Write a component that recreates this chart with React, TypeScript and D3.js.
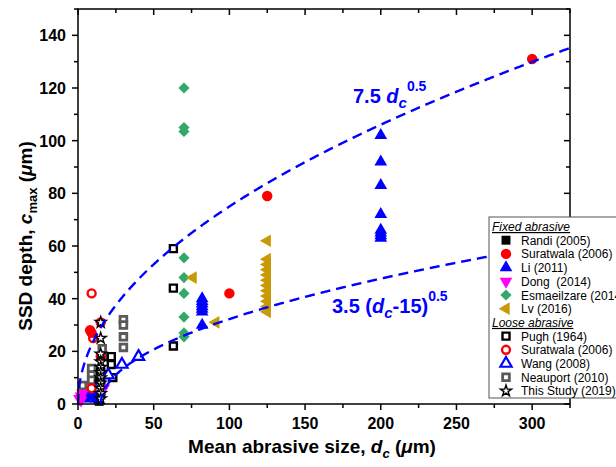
import React from "react";
import * as d3 from "d3";

// ---------- data ----------
type P = [number, number];
const randi: P[] = [[14, 1], [14, 3], [14, 5], [14, 7], [14, 9], [13, 2], [15, 4]];
const suratwalaFixed: P[] = [[8, 28], [9, 27], [15, 31], [15, 18], [100, 42], [125, 79], [300, 131]];
const li: P[] = [
  [200, 102], [200, 92], [200, 83], [200, 72], [200, 66], [200, 65], [200, 64], [200, 63],
  [82, 40], [82, 39], [82, 38], [82, 37], [82, 36], [82, 35], [82, 30],
  [5, 2], [7, 3], [9, 3], [10, 4], [12, 2], [14, 5],
];
const dong: P[] = [[1, 2], [2, 3], [3, 4], [2, 1.5], [17, 6]];
const esmaeilzare: P[] = [[70, 120], [70, 105], [70, 103.5], [70, 55.5], [70, 48], [70, 42], [70, 33], [70, 27], [70, 25.5]];
const lv: P[] = [
  [125, 62], [125, 55], [125, 53], [125, 51], [125, 49], [125, 47], [125, 45], [125, 43],
  [125, 41], [125, 39], [125, 37], [125, 35], [76, 48], [91, 31],
];
const pugh: P[] = [[63, 59], [63, 44], [63, 22], [22, 18], [22, 15], [23, 10], [15, 5], [15, 8], [15, 12], [13, 3]];
const suratwalaLoose: P[] = [[9, 42], [10, 25], [9, 6]];
const wang: P[] = [[40, 18], [29, 15], [20, 11], [13, 6]];
const neauport: P[] = [[30, 32], [30, 30], [30, 25.5], [30, 21.5], [16, 21], [16, 18], [9, 13.5], [9, 11], [9, 9], [3, 7], [3, 4]];
const thisStudy: P[] = [[15, 31], [15, 25], [15, 19], [15, 16], [15, 14], [15, 12], [15, 10], [15, 8], [15, 6], [15, 4], [15, 2]];

const xTicks = [0, 50, 100, 150, 200, 250, 300];
const yTicks = [0, 20, 40, 60, 80, 100, 120, 140];

const upperCoef = 7.5;
const lowerCoef = 3.5;
const lowerOffset = 15;

// ---------- layout ----------
const W = 616, H = 467;
const x = d3.scaleLinear().domain([0, 325]).range([78, 570]);
const y = d3.scaleLinear().domain([0, 150]).range([404, 9]);

const BLUE = "#0000ff";
const RED = "#ff0000";
const MAG = "#ff00ff";
const GREEN = "#33a86b";
const GOLD = "#c99a06";
const GRAY = "#5a5a5a";

type Sty = { shape: string; size: number; fill: string; stroke: string; sw: number; rot?: number };

const styles: Record<string, Sty> = {
  randi: { shape: "square", size: 80, fill: "#000", stroke: "none", sw: 0 },
  surF: { shape: "circle", size: 85, fill: RED, stroke: "none", sw: 0 },
  li: { shape: "triangle", size: 70, fill: BLUE, stroke: "none", sw: 0 },
  dong: { shape: "triangle", size: 70, fill: MAG, stroke: "none", sw: 0, rot: 180 },
  esm: { shape: "square", size: 62, fill: GREEN, stroke: "none", sw: 0, rot: 45 },
  lv: { shape: "triangle", size: 70, fill: GOLD, stroke: "none", sw: 0, rot: -90 },
  pugh: { shape: "square", size: 49, fill: "#fff", stroke: "#000", sw: 2.4 },
  surL: { shape: "circle", size: 50, fill: "#fff", stroke: RED, sw: 2.4 },
  wang: { shape: "triangle", size: 55, fill: "#fff", stroke: BLUE, sw: 2.2 },
  neau: { shape: "square", size: 45, fill: "#fff", stroke: GRAY, sw: 2.8 },
  star: { shape: "star", size: 38, fill: "#fff", stroke: "#000", sw: 1.4 },
};

const symType: Record<string, d3.SymbolType> = {
  square: d3.symbolSquare,
  circle: d3.symbolCircle,
  triangle: d3.symbolTriangle,
  star: d3.symbolStar,
};

function Mark({ cx, cy, s }: { cx: number; cy: number; s: Sty }) {
  const path = d3.symbol().type(symType[s.shape]).size(s.size)()!;
  return (
    <path
      d={path}
      transform={`translate(${cx},${cy}) rotate(${s.rot || 0})`}
      fill={s.fill}
      stroke={s.stroke}
      strokeWidth={s.sw}
      strokeLinejoin="miter"
    />
  );
}

const series: { key: string; data: P[] }[] = [
  { key: "neau", data: neauport },
  { key: "pugh", data: pugh },
  { key: "randi", data: randi },
  { key: "li", data: li },
  { key: "dong", data: dong },
  { key: "esm", data: esmaeilzare },
  { key: "lv", data: lv },
  { key: "wang", data: wang },
  { key: "surL", data: suratwalaLoose },
  { key: "surF", data: suratwalaFixed },
  { key: "star", data: thisStudy },
];

const legendFixed = [
  { key: "randi", label: "Randi (2005)" },
  { key: "surF", label: "Suratwala (2006)" },
  { key: "li", label: "Li (2011)" },
  { key: "dong", label: "Dong\u00a0 (2014)" },
  { key: "esm", label: "Esmaeilzare (2014)" },
  { key: "lv", label: "Lv (2016)" },
];
const legendLoose = [
  { key: "pugh", label: "Pugh (1964)" },
  { key: "surL", label: "Suratwala (2006)" },
  { key: "wang", label: "Wang (2008)" },
  { key: "neau", label: "Neauport (2010)" },
  { key: "star", label: "This Study (2019)" },
];

export default function App() {
  const upper = d3.range(0, 325.5, 0.5).map((d) => [d, upperCoef * Math.sqrt(d)] as P);
  const lower = d3.range(lowerOffset, 325.5, 0.5).map((d) => [d, lowerCoef * Math.sqrt(d - lowerOffset)] as P);
  const line = d3
    .line<P>()
    .x((d) => x(d[0]))
    .y((d) => y(d[1]));

  const xMinor = d3.range(0, 326, 25);
  const yMinor = d3.range(0, 151, 10);
  const font = "'Liberation Sans', Arial, sans-serif";
  const x0 = x.range()[0], x1 = x.range()[1];
  const y0 = y.range()[0], y1 = y.range()[1];

  const lx = 489, ly = 217, rowH = 13.7;
  const rows: { type: "head" | "item"; key?: string; label: string }[] = [
    { type: "head", label: "Fixed abrasive" },
    ...legendFixed.map((l) => ({ type: "item" as const, ...l })),
    { type: "head", label: "Loose abrasive" },
    ...legendLoose.map((l) => ({ type: "item" as const, ...l })),
  ];

  return (
    <svg width={W} height={H} style={{ position: "absolute", left: 0, top: 0, background: "#fff" }} fontFamily={font}>
      <rect x={0} y={0} width={W} height={H} fill="#fff" />
      {/* data points */}
      {series.map((s) =>
        s.data.map((p, i) => <Mark key={s.key + i} cx={x(p[0])} cy={y(p[1])} s={styles[s.key]} />)
      )}
      {/* curves */}
      <path d={line(upper)!} fill="none" stroke={BLUE} strokeWidth={2.4} strokeDasharray="10,6" />
      <path d={line(lower)!} fill="none" stroke={BLUE} strokeWidth={2.4} strokeDasharray="10,6" />

      {/* frame */}
      <rect x={x0} y={y1} width={x1 - x0} height={y0 - y1} fill="none" stroke="#000" strokeWidth={1.5} />
      {xMinor.map((t) => {
        const major = t % 50 === 0;
        const len = major ? 6 : 4;
        return (
          <g key={"xt" + t}>
            <line x1={x(t)} x2={x(t)} y1={y0} y2={y0 + len} stroke="#000" strokeWidth={1.5} />
            <line x1={x(t)} x2={x(t)} y1={y1} y2={y1 + len} stroke="#000" strokeWidth={1.5} />
          </g>
        );
      })}
      {yMinor.map((t) => {
        const major = t % 20 === 0;
        const len = major ? 6 : 4;
        return (
          <g key={"yt" + t}>
            <line x1={x0 - len} x2={x0} y1={y(t)} y2={y(t)} stroke="#000" strokeWidth={1.5} />
            <line x1={x1 - len} x2={x1} y1={y(t)} y2={y(t)} stroke="#000" strokeWidth={1.5} />
          </g>
        );
      })}
      {xTicks.map((t) => (
        <text key={"xl" + t} x={x(t)} y={429} textAnchor="middle" fontSize={16} fontWeight="bold">
          {t}
        </text>
      ))}
      {yTicks.map((t) => (
        <text key={"yl" + t} x={66} y={y(t) + 6} textAnchor="end" fontSize={16} fontWeight="bold">
          {t}
        </text>
      ))}

      {/* axis titles */}
      <text x={312} y={453} textAnchor="middle" fontSize={19} fontWeight="bold">
        Mean abrasive size, <tspan fontStyle="italic">d</tspan>
        <tspan fontStyle="italic" fontSize={13} dy={5}>c</tspan>
        <tspan dy={-5}> (</tspan>
        <tspan fontStyle="italic">μ</tspan>m)
      </text>
      <text transform="translate(32,236) rotate(-90)" textAnchor="middle" fontSize={19} fontWeight="bold">
        SSD depth, <tspan fontStyle="italic">c</tspan>
        <tspan fontSize={13} dy={5}>max</tspan>
        <tspan dy={-5}> (</tspan>
        <tspan fontStyle="italic">μ</tspan>m)
      </text>

      {/* annotations */}
      <text x={353} y={103} fontSize={20} fontWeight="bold" fill={BLUE}>
        7.5 <tspan fontStyle="italic">d</tspan>
        <tspan fontStyle="italic" fontSize={15} dy={5}>c</tspan>
        <tspan fontSize={14} dy={-17}>0.5</tspan>
      </text>
      <text x={332} y={313} fontSize={20} fontWeight="bold" fill={BLUE}>
        3.5 (<tspan fontStyle="italic">d</tspan>
        <tspan fontStyle="italic" fontSize={15} dy={5}>c</tspan>
        <tspan dy={-5}>-15)</tspan>
        <tspan fontSize={14} dy={-12}>0.5</tspan>
      </text>

      {/* legend */}
      <rect x={lx} y={ly} width={140} height={181} fill="#fff" stroke="#555" strokeWidth={1} />
      {rows.map((r, i) => {
        const cy = ly + 9.5 + i * rowH;
        if (r.type === "head") {
          return (
            <text key={"lg" + i} x={lx + 3} y={cy + 4.5} fontSize={12} fontStyle="italic" textDecoration="underline">
              {r.label}
            </text>
          );
        }
        return (
          <g key={"lg" + i}>
            <Mark cx={lx + 17} cy={cy} s={styles[r.key!]} />
            <text x={lx + 32} y={cy + 4.5} fontSize={12}>
              {r.label}
            </text>
          </g>
        );
      })}
    </svg>
  );
}
